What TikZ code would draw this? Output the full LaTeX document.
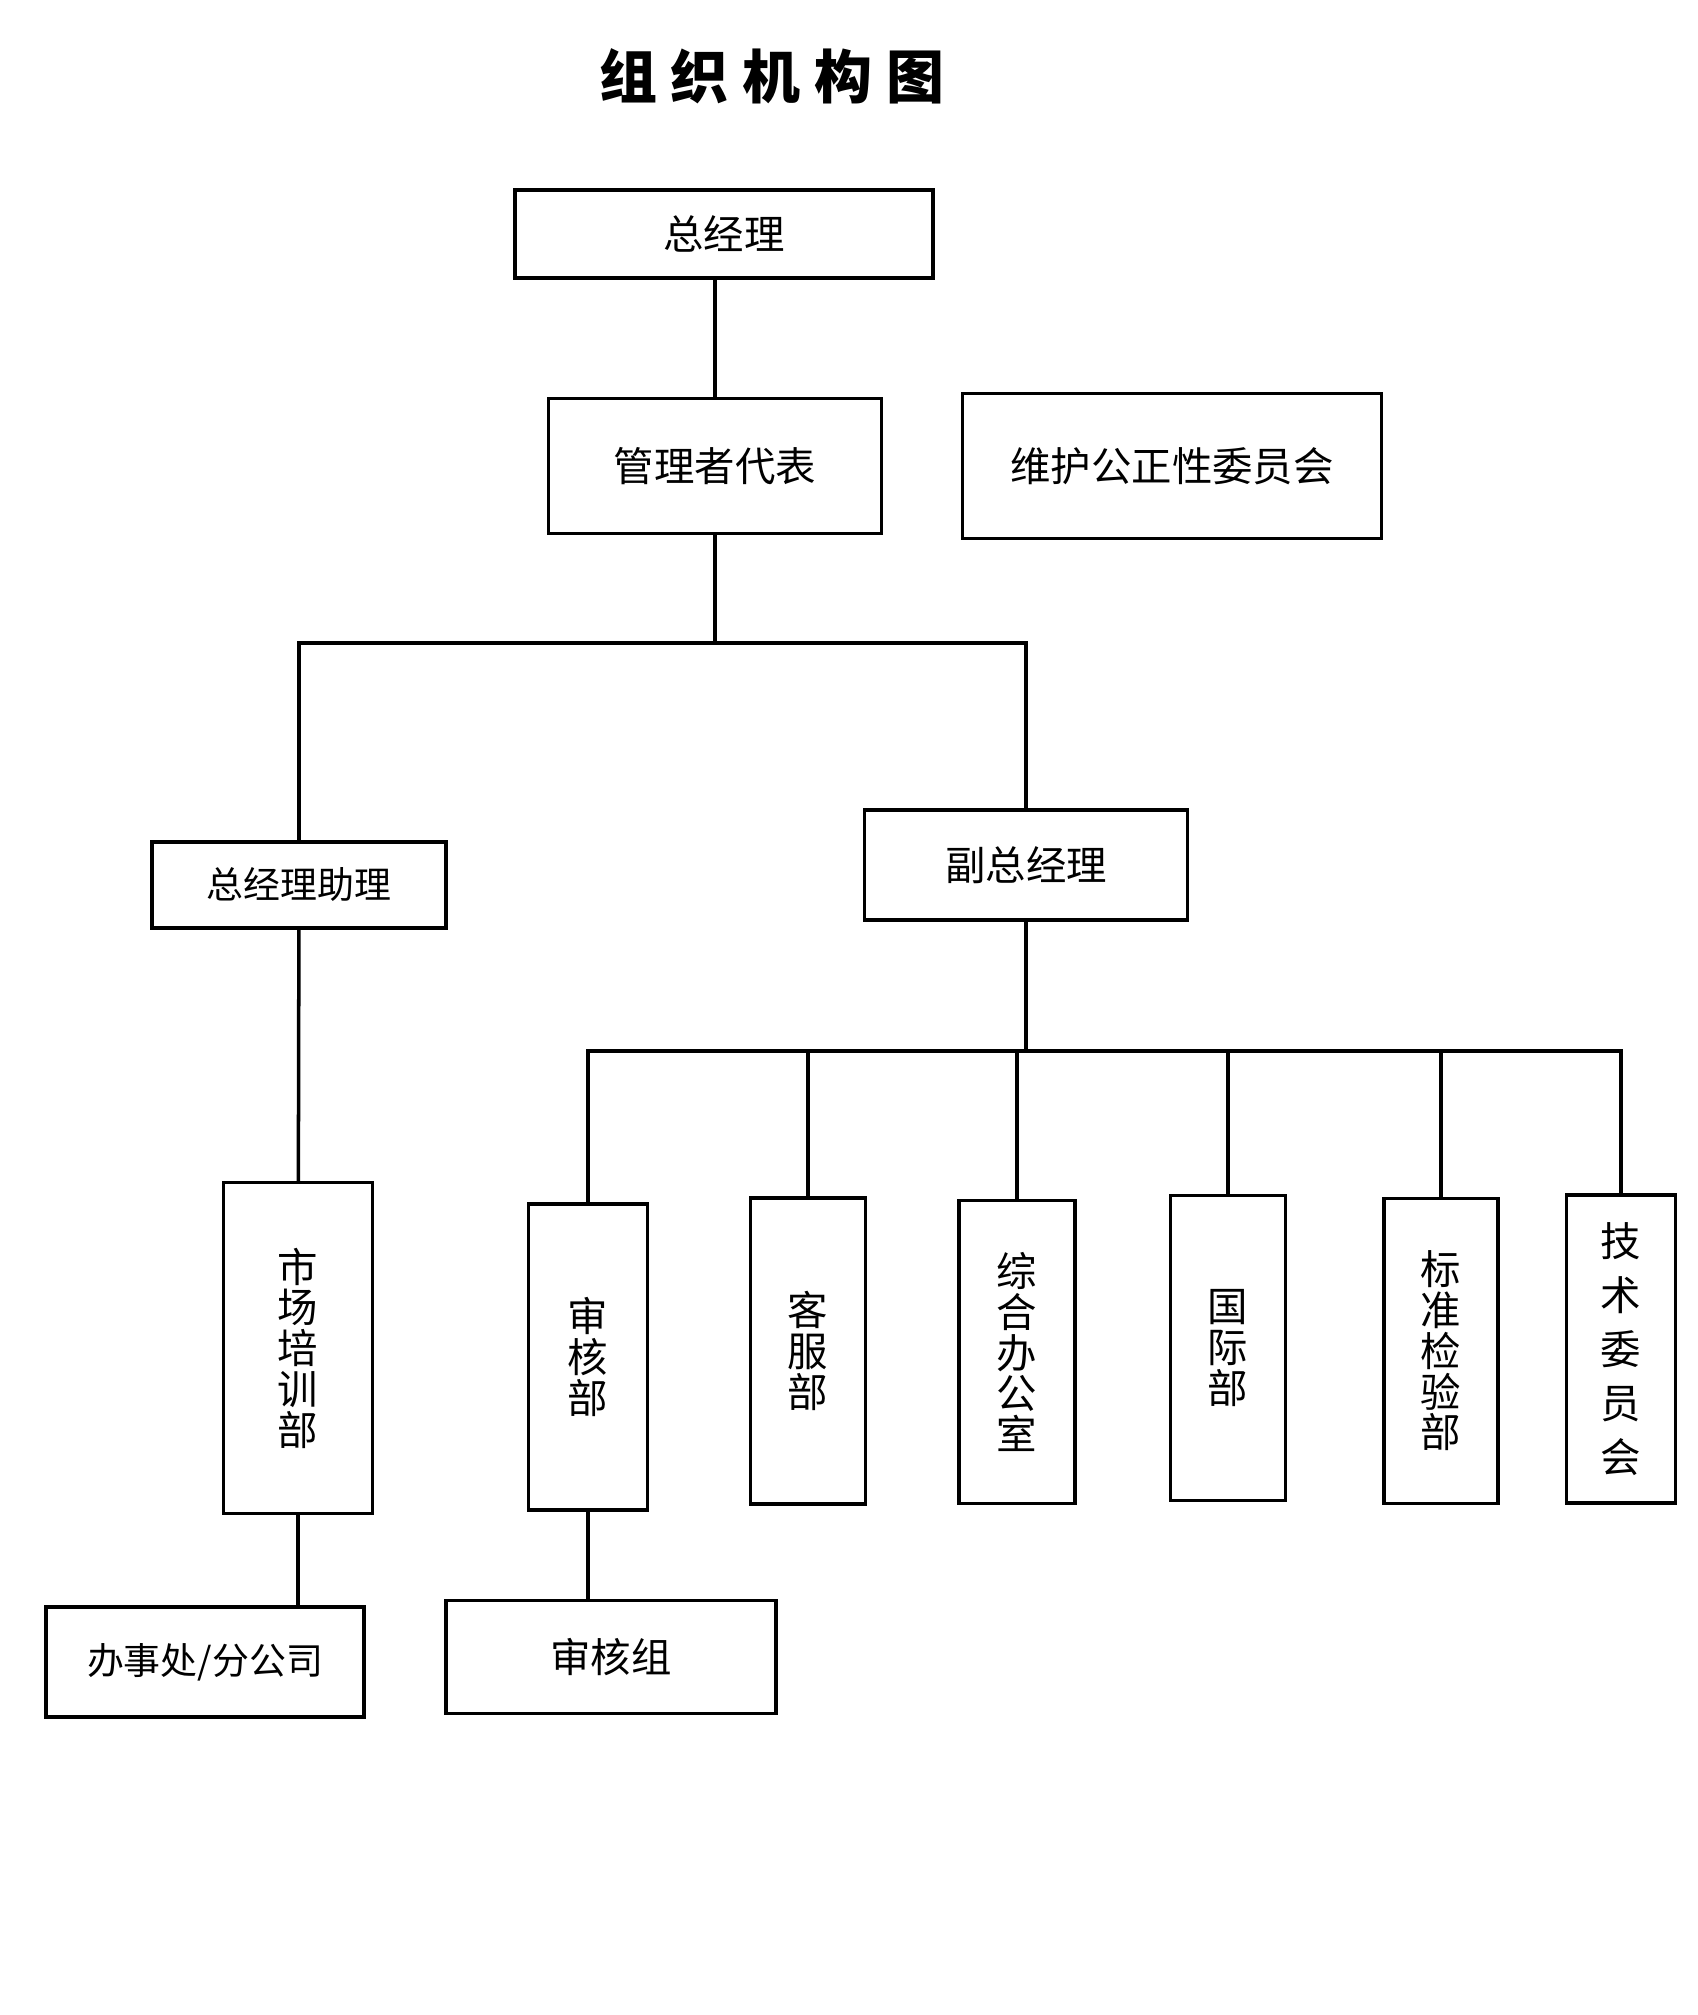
\documentclass[tikz,border=0pt]{standalone}
\usepackage{fontspec}
\setmainfont{Noto Sans CJK SC}

\begin{document}
\begin{tikzpicture}[
  box/.style={draw,line width=1pt,inner sep=0pt,font=\fontsize{11.5pt}{14pt}\selectfont},
  vbox/.style={box,align=center,font=\fontsize{11.5pt}{11.6pt}\selectfont},
  conn/.style={line width=1pt}]
  \useasboundingbox (0,0) rectangle (16.98,-20.15);
  \node[font=\fontsize{16.5pt}{20pt}\selectfont\bfseries] (T) at (7.72,-0.76)
    {组\hspace{1.4mm}织\hspace{1.4mm}机\hspace{1.4mm}构\hspace{1.4mm}图};
  % top levels
  \node[box,minimum width=4.18cm,minimum height=0.88cm] (GM) at (7.24,-2.34) {总经理};
  \node[box,minimum width=3.33cm,minimum height=1.35cm] (MR) at (7.15,-4.66) {管理者代表};
  \node[box,minimum width=4.19cm,minimum height=1.45cm] (IC) at (11.72,-4.66) {维护公正性委员会};
  \node[box,minimum width=2.94cm,minimum height=0.86cm,
    font=\fontsize{10.5pt}{13pt}\selectfont] (AS) at (2.99,-8.85) {总经理助理};
  \node[box,minimum width=3.23cm,minimum height=1.10cm] (VGM) at (10.26,-8.65) {副总经理};
  % departments
  \node[vbox,minimum width=1.49cm,minimum height=3.31cm] (MK) at (2.98,-13.48) {市\\场\\培\\训\\部};
  \node[vbox,minimum width=1.19cm,minimum height=3.06cm] (AU) at (5.88,-13.57) {审\\核\\部};
  \node[vbox,minimum width=1.15cm,minimum height=3.06cm] (CS) at (8.08,-13.51) {客\\服\\部};
  \node[vbox,minimum width=1.16cm,minimum height=3.03cm] (GO) at (10.17,-13.52) {综\\合\\办\\公\\室};
  \node[vbox,minimum width=1.15cm,minimum height=3.05cm] (ID) at (12.28,-13.48) {国\\际\\部};
  \node[vbox,minimum width=1.14cm,minimum height=3.05cm] (SD) at (14.41,-13.51) {标\\准\\检\\验\\部};
  \node[vbox,minimum width=1.09cm,minimum height=3.08cm,
    font=\fontsize{11.5pt}{15.4pt}\selectfont] (TC) at (16.21,-13.49) {技\\术\\委\\员\\会};
  % bottom
  \node[box,minimum width=3.18cm,minimum height=1.10cm,
    font=\fontsize{10.5pt}{13pt}\selectfont] (BR) at (2.05,-16.62) {办事处/分公司};
  \node[box,minimum width=3.30cm,minimum height=1.13cm] (AG) at (6.11,-16.57) {审核组};
  \coordinate (J1) at (7.04,-6.43);
  \coordinate (J2) at (10.33,-10.51);
  \draw[conn] (MR.north) -- (MR.north |- GM.south);
  \draw[conn] (MR.south) -- (MR.south |- J1);
  \draw[conn] (AS.north) |- (J1) -| (VGM.north);
  \draw[conn] (AS) -- (MK);
  \draw[conn] (MK.south) -- (MK.south |- BR.north);
  \draw[conn] (VGM.south) -- (VGM.south |- J2);
  \draw[conn] (AU.north) |- (J2) -| (TC.north);
  \draw[conn] (CS.north) -- (CS.north |- J2) (GO.north) -- (GO.north |- J2);
  \draw[conn] (ID.north) -- (ID.north |- J2) (SD.north) -- (SD.north |- J2);
  \draw[conn] (AU.south) -- (AU.south |- AG.north);
\end{tikzpicture}
\end{document}
